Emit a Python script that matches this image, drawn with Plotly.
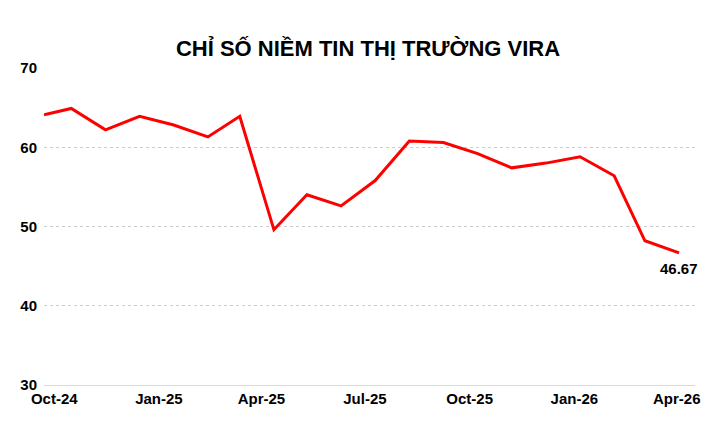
import plotly.graph_objects as go

dates = ["2024-09-22", "2024-10-16", "2024-11-15", "2024-12-15", "2025-01-14",
         "2025-02-13", "2025-03-13", "2025-04-12", "2025-05-11", "2025-06-10",
         "2025-07-10", "2025-08-09", "2025-09-08", "2025-10-08", "2025-11-07",
         "2025-12-07", "2026-01-06", "2026-02-05", "2026-03-04", "2026-04-03"]
values = [64.1, 64.9, 62.2, 63.9, 62.8, 61.3, 63.9, 49.6, 54.0, 52.6,
          55.8, 60.8, 60.6, 59.2, 57.4, 58.0, 58.8, 56.4, 48.2, 46.67]
tick_dates = ["2024-10-01", "2025-01-01", "2025-04-01", "2025-07-01",
              "2025-10-01", "2026-01-01", "2026-04-01"]
tick_labels = ["Oct-24", "Jan-25", "Apr-25", "Jul-25", "Oct-25", "Jan-26", "Apr-26"]

fig = go.Figure()
fig.add_trace(go.Scatter(x=dates, y=values, mode="lines",
                         line=dict(color="#ff0000", width=3)))
fig.add_annotation(x=dates[-1], y=values[-1], text="<b>46.67</b>", showarrow=False,
                   yshift=-16, font=dict(size=15, color="black"))

fig.update_layout(
    width=720, height=431,
    paper_bgcolor="white", plot_bgcolor="white",
    margin=dict(l=30, r=33, t=60, b=54),
    showlegend=False,
    font=dict(family="Liberation Sans, Arial", size=15, color="black"),
    title=dict(text="<b>CHỈ SỐ NIỀM TIN THỊ TRƯỜNG VIRA</b>", x=0.5, y=0.925,
               xanchor="center", font=dict(size=22, color="black")),
)
fig.update_xaxes(range=["2024-09-22", "2026-04-17"], tickvals=tick_dates,
                 ticktext=[f"<b>{t}</b>" for t in tick_labels], showgrid=False,
                 showline=True, linecolor="#d9d9d9", ticks="")
fig.update_yaxes(range=[30, 70], tickvals=[30, 40, 50, 60, 70],
                 ticktext=[f"<b>{v}</b>" for v in [30, 40, 50, 60, 70]],
                 showgrid=True, gridcolor="#cccccc", griddash="dot",
                 zeroline=False, ticks="", ticklabelstandoff=6)

fig.write_html("out.html")
